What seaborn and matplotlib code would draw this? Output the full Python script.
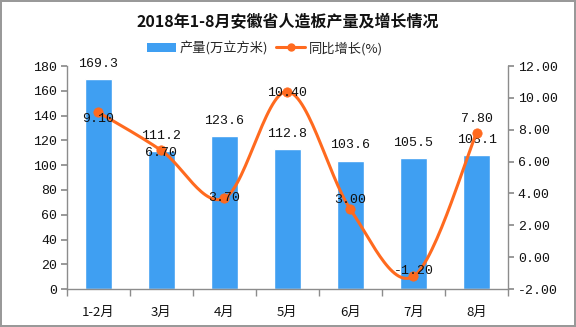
import numpy as np
import pandas as pd
import matplotlib
matplotlib.use("Agg")
import matplotlib.pyplot as plt
import seaborn as sns
from matplotlib.patches import Patch
from matplotlib.lines import Line2D

categories = ["1-2月", "3月", "4月", "5月", "6月", "7月", "8月"]
output_vals = [169.3, 111.2, 123.6, 112.8, 103.6, 105.5, 108.1]
growth_vals = [9.10, 6.70, 3.70, 10.40, 3.00, -1.20, 7.80]
bar_labels = ["169.3", "111.2", "123.6", "112.8", "103.6", "105.5", "108.1"]
growth_labels = ["9.10", "6.70", "3.70", "10.40", "3.00", "-1.20", "7.80"]
left_ticks = [0, 20, 40, 60, 80, 100, 120, 140, 160, 180]
right_ticks = [-2, 0, 2, 4, 6, 8, 10, 12]

sns.set_theme(style="white")
plt.rcParams['font.family'] = ['Noto Sans CJK SC', 'DejaVu Sans']
plt.rcParams['axes.unicode_minus'] = False

NUM_FONT = ['Liberation Mono', 'DejaVu Sans Mono']
BAR_C = "#3f9ff2"
LINE_C = "#ff6a1f"
AX_C = "#8c8c8c"
TXT_C = "#111111"

fig = plt.figure(figsize=(5.76, 3.27), dpi=100)
fig.patch.set_facecolor("white")
fig.patch.set_edgecolor("#999999")
fig.patch.set_linewidth(1.5)
ax = fig.add_axes([0.116, 0.116, 0.766, 0.682])

df = pd.DataFrame({"cat": categories, "val": output_vals})
sns.barplot(data=df, x="cat", y="val", color=BAR_C, width=0.43, ax=ax, saturation=1)
ax.set_ylim(0, 180)
ax.set_yticks(left_ticks)
ax.set_yticklabels([str(v) for v in left_ticks], family=NUM_FONT)
ax.set_xlim(-0.5, len(categories) - 0.5)
ax.set_xlabel("")
ax.set_ylabel("")
for i, (v, t) in enumerate(zip(output_vals, bar_labels)):
    ax.annotate(t, (i, v), xytext=(0, 11), textcoords="offset points",
                ha="center", va="center", fontsize=9.5, color=TXT_C, family=NUM_FONT)

ax2 = ax.twinx()
x = np.arange(len(categories))
# Catmull-Rom smooth path through the data points
y = np.array(growth_vals, dtype=float)
px = np.concatenate([[x[0]], x, [x[-1]]]).astype(float)
py = np.concatenate([[y[0]], y, [y[-1]]])
sx, sy = [], []
for k in range(1, len(px) - 2):
    p0, p1, p2, p3 = px[k-1], px[k], px[k+1], px[k+2]
    q0, q1, q2, q3 = py[k-1], py[k], py[k+1], py[k+2]
    for t in np.linspace(0, 1, 30, endpoint=False):
        t2, t3 = t*t, t*t*t
        sx.append(0.5*((2*p1) + (-p0+p2)*t + (2*p0-5*p1+4*p2-p3)*t2 + (-p0+3*p1-3*p2+p3)*t3))
        sy.append(0.5*((2*q1) + (-q0+q2)*t + (2*q0-5*q1+4*q2-q3)*t2 + (-q0+3*q1-3*q2+q3)*t3))
sx.append(x[-1]); sy.append(y[-1])
ax2.plot(sx, sy, color=LINE_C, lw=2.2, zorder=3)
sns.scatterplot(x=x, y=growth_vals, color=LINE_C, s=45, edgecolor=LINE_C,
                ax=ax2, zorder=4, legend=False)
ax2.set_ylim(-2, 12)
ax2.set_yticks(right_ticks)
ax2.set_yticklabels([f"{v:.2f}" for v in right_ticks], family=NUM_FONT)
# label placement (pixel offsets, style only)
lab_dy = [-5, -1.5, 0, -1, 7, 4, 10]
for i, (v, t) in enumerate(zip(growth_vals, growth_labels)):
    ax2.annotate(t, (i, v), xytext=(0, lab_dy[i]), textcoords="offset points",
                 ha="center", va="center", fontsize=9.5, color=TXT_C,
                 family=NUM_FONT, zorder=5)

for a in (ax, ax2):
    for s in a.spines.values():
        s.set_visible(False)
ax.spines["left"].set_visible(True)
ax.spines["bottom"].set_visible(True)
ax2.spines["right"].set_visible(True)
for s in (ax.spines["left"], ax.spines["bottom"], ax2.spines["right"]):
    s.set_color(AX_C)
    s.set_linewidth(1)

ax.tick_params(axis="y", left=True, length=4, color=AX_C, labelsize=9.5, pad=3, labelcolor=TXT_C)
ax2.tick_params(axis="y", right=True, length=4, color=AX_C, labelsize=9.5, pad=3, labelcolor=TXT_C)
ax.set_xticks(x)
ax.set_xticklabels(categories)
ax.tick_params(axis="x", bottom=False, labelsize=9.5, pad=6, labelcolor=TXT_C)
ax.set_xticks(np.arange(-0.5, len(categories) + 0.5, 1), minor=True)
ax.tick_params(axis="x", which="minor", bottom=True, length=5, color=AX_C)

fig.text(0.5, 0.933, "2018年1-8月安徽省人造板产量及增长情况", ha="center", va="center",
         fontsize=11.5, fontweight="bold", color=TXT_C)

handles = [Patch(facecolor=BAR_C, edgecolor="none"),
           Line2D([0], [0], color=LINE_C, lw=2.2, marker="o", markersize=5)]
fig.legend(handles, ["产量(万立方米)", "同比增长(%)"], loc="center",
           bbox_to_anchor=(0.46, 0.853), ncol=2, frameon=False, fontsize=9.5,
           handlelength=2.2, handletextpad=0.3, columnspacing=0.6)

fig.savefig("out.png", dpi=100, facecolor=fig.get_facecolor(), edgecolor=fig.get_edgecolor())
